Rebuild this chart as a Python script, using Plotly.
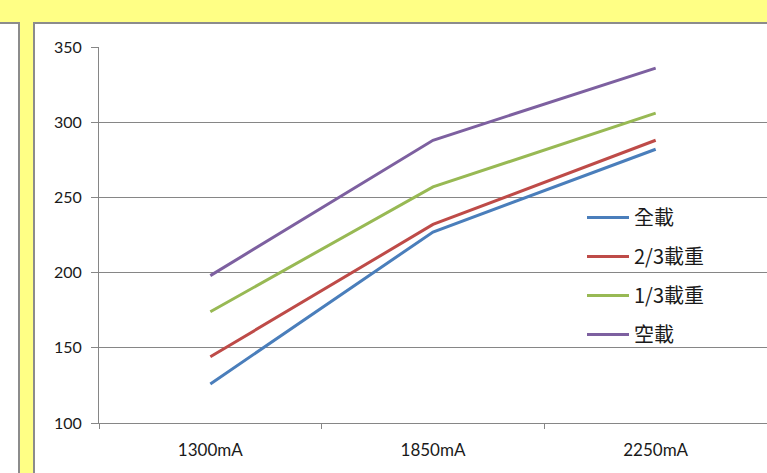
import plotly.graph_objects as go

# Battery capacity against load level
currents = ["1300mA", "1850mA", "2250mA"]
series_names = ["全載", "2/3載重", "1/3載重", "空載"]
full_load = [126, 227, 282]
two_thirds_load = [144, 232, 288]
one_third_load = [174, 257, 306]
no_load = [198, 288, 336]
y_ticks = [100, 150, 200, 250, 300, 350]

series_values = [full_load, two_thirds_load, one_third_load, no_load]
colors = ["#4A7EBB", "#BE4B48", "#98B954", "#7D60A0"]

W, H = 767, 473
L, R, T, B = 99, 0, 47, 50
pw, ph = W - L - R, H - T - B


def px_x(px):
    return (px - L) / pw


def px_y(py):
    return (H - B - py) / ph


fig = go.Figure()
for i, (name, vals) in enumerate(zip(series_names, series_values)):
    fig.add_trace(go.Scatter(
        x=currents, y=vals, name=name, mode="lines",
        line=dict(color=colors[i], width=3),
        legendgroup=f"g{i}",
    ))

shapes = [
    # narrow neighbouring panel on the left
    dict(type="rect", xref="paper", yref="paper",
         x0=px_x(-5), x1=px_x(19), y0=px_y(480), y1=px_y(23),
         fillcolor="white", line=dict(color="#8C8C8C", width=2), layer="below"),
    # chart panel
    dict(type="rect", xref="paper", yref="paper",
         x0=px_x(34), x1=px_x(780), y0=px_y(480), y1=px_y(23),
         fillcolor="white", line=dict(color="#8C8C8C", width=2), layer="below"),
]

fig.update_layout(
    width=W, height=H,
    margin=dict(l=L, r=R, t=T, b=B, pad=0),
    paper_bgcolor="#FFFF85",
    plot_bgcolor="rgba(0,0,0,0)",
    shapes=shapes,
    font=dict(family="Lato, 'Noto Sans CJK TC', sans-serif", color="#1A1A1A", size=16),
    showlegend=True,
    legend=dict(
        x=px_x(582), y=px_y(198), xanchor="left", yanchor="top",
        bgcolor="rgba(0,0,0,0)", borderwidth=0,
        font=dict(family="'Noto Sans CJK TC', Lato, sans-serif", size=20, color="#1A1A1A"),
        tracegroupgap=10,
        traceorder="grouped",
        itemwidth=42,
    ),
)

fig.update_xaxes(
    type="category", range=[-0.5, 2.5],
    showline=True, linecolor="#868686", linewidth=1,
    ticks="outside", ticklen=5, tickcolor="#868686", tickson="boundaries",
    showgrid=False, zeroline=False,
    tickfont=dict(size=17), ticklabelstandoff=12,
)
fig.update_yaxes(
    range=[100, 350], tickvals=y_ticks,
    showline=True, linecolor="#868686", linewidth=1,
    ticks="outside", ticklen=7, tickcolor="#868686",
    showgrid=True, gridcolor="#868686", gridwidth=1,
    zeroline=False,
    tickfont=dict(size=16), ticklabelstandoff=6,
)

fig.write_html("out.html")
